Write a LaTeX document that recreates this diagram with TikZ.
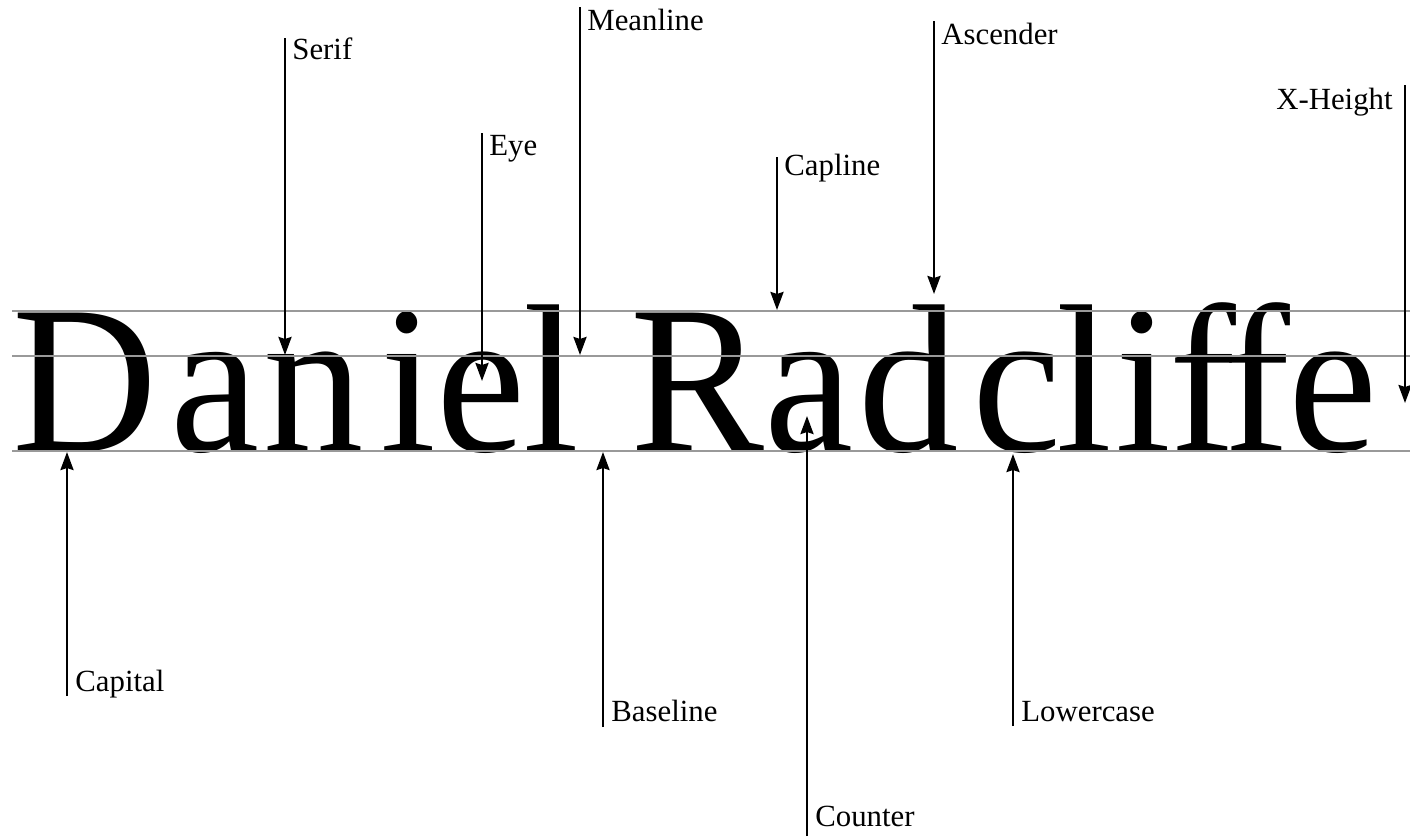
\documentclass[tikz,border=0pt]{standalone}
\usepackage{fontspec}
\setmainfont{Liberation Serif}
\usetikzlibrary{arrows.meta,positioning}
\newcommand{\specimen}[1]{\scalebox{0.95}[1]{\fontsize{105.7}{110}\selectfont #1}}
\tikzset{
  glyph/.style={anchor=base west, inner sep=0pt},
  lbl/.style={font=\fontsize{15.4}{16}\selectfont, inner sep=0pt},
  pointer/.style={line width=1.2pt, -{Stealth[length=9pt, width=6.5pt, inset=1pt]}},
  guide/.style={line width=0.7pt, black!40}
}

\begin{document}
\begin{tikzpicture}[x=0.5pt, y=-0.5pt]
    \useasboundingbox (0,0) rectangle (1410,837);

    % Specimen, one letter at a time
    \foreach \ch/\xpos [count=\k] in {D/12, a/170, n/263, i/380, e/436, l/523,
                                      R/630, a/764, d/858, c/972, l/1056, i/1115,
                                      f/1169, f/1223, e/1288} {
        \node[glyph] (g\k) at (\xpos,451) {\specimen{\ch}};
    }

    % Capline, meanline, baseline
    \foreach \y in {311, 356, 451} {
        \draw[guide] (12,\y) -- (1410,\y);
    }

    % Labels above the word
    \coordinate (serif top) at (285,38);   \coordinate (serif tip) at (285,355);
    \coordinate (eye top) at (482,133);    \coordinate (eye tip) at (482,381);
    \coordinate (mean top) at (580,7);     \coordinate (mean tip) at (580,355);
    \coordinate (cap top) at (777,157);    \coordinate (cap tip) at (777,310);
    \coordinate (asc top) at (934,21);     \coordinate (asc tip) at (934,294);
    \coordinate (xh top) at (1405,85);     \coordinate (xh tip) at (1405,403);

    \node[lbl, anchor=base west] (serif) at (292,59) {Serif};
    \node[lbl, anchor=base west] (eye) at (489,155) {Eye};
    \node[lbl, anchor=base west] (meanline) at (587,30) {Meanline};
    \node[lbl, anchor=base west] (capline) at (784,175) {Capline};
    \node[lbl, anchor=base west] (ascender) at (941,44) {Ascender};
    \node[lbl, anchor=base east] (xheight) at (1393,109) {X-Height};

    \draw[pointer] (serif top) -- (serif tip);
    \draw[pointer] (eye top) -- (eye tip);
    \draw[pointer] (mean top) -- (mean tip);
    \draw[pointer] (cap top) -- (cap tip);
    \draw[pointer] (asc top) -- (asc tip);
    \draw[pointer] (xh top) -- (xh tip);

    % Labels below the word
    \coordinate (capital foot) at (67,696);   \coordinate (capital tip) at (67,452);
    \coordinate (base foot) at (603,727);     \coordinate (base tip) at (603,452);
    \coordinate (counter foot) at (807,836);  \coordinate (counter tip) at (807,416);
    \coordinate (lower foot) at (1013,726);   \coordinate (lower tip) at (1013,454);

    \node[lbl, anchor=base west] (capital) at (75,691) {Capital};
    \node[lbl, anchor=base west] (baseline) at (611,721) {Baseline};
    \node[lbl, anchor=base west] (counter) at (815,826) {Counter};
    \node[lbl, anchor=base west] (lowercase) at (1021,721) {Lowercase};

    \draw[pointer] (capital foot) -- (capital tip);
    \draw[pointer] (base foot) -- (base tip);
    \draw[pointer] (counter foot) -- (counter tip);
    \draw[pointer] (lower foot) -- (lower tip);
\end{tikzpicture}
\end{document}
